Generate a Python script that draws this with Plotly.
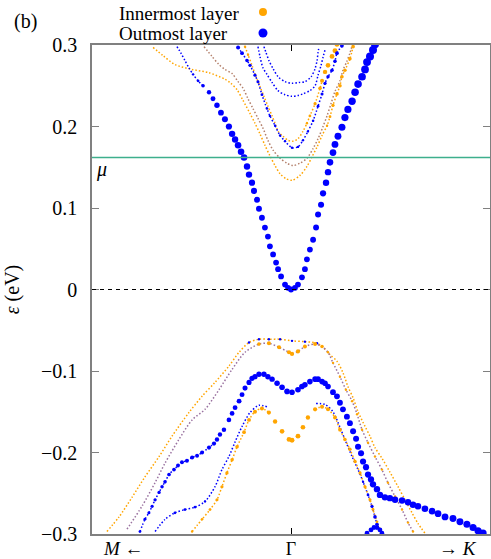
import numpy as np
import plotly.graph_objects as go

ORANGE = "#ffa500"
BLUE = "#0000ff"
MIX = "#9a72a0"
BROWN = "#b4806c"
FONT = "Liberation Serif"
MU = 0.162

# k runs from the M side (-1) through Gamma (0) to the K side (1); energies in eV
# w is the layer weight, used for the dot size

# conduction bands
c1_k = [-0.573, -0.553, -0.533, -0.513, -0.492, -0.467, -0.442, -0.412, -0.392, -0.372, -0.352, -0.332,
        -0.312, -0.296, -0.281, -0.266, -0.251, -0.236, -0.221, -0.211, -0.196, -0.186, -0.171, -0.161,
        -0.146, -0.131, -0.116, -0.106, -0.090, -0.075, -0.065, -0.050, -0.030, -0.015, 0.0,
        0.020, 0.035, 0.055, 0.070, 0.080, 0.095, 0.111, 0.126, 0.136, 0.151, 0.161, 0.176,
        0.186, 0.196, 0.211, 0.221, 0.236, 0.256, 0.271, 0.286, 0.307, 0.322, 0.337, 0.357,
        0.372, 0.382, 0.397, 0.412, 0.422]
c1_e = [0.298, 0.290, 0.281, 0.272, 0.264, 0.256, 0.250, 0.242, 0.234, 0.226, 0.217, 0.209,
        0.200, 0.191, 0.184, 0.177, 0.169, 0.162, 0.151, 0.141, 0.131, 0.121, 0.110, 0.099,
        0.088, 0.076, 0.065, 0.053, 0.043, 0.033, 0.025, 0.016, 0.006, 0.002, 0.0,
        0.002, 0.006, 0.015, 0.025, 0.037, 0.049, 0.061, 0.076, 0.092, 0.104, 0.118, 0.131,
        0.144, 0.156, 0.168, 0.178, 0.188, 0.199, 0.211, 0.221, 0.231, 0.242, 0.252, 0.261,
        0.270, 0.279, 0.286, 0.294, 0.301]
c1_w = [0.2, 0.2, 0.22, 0.25, 0.3, 0.35, 0.45, 0.55, 0.62, 0.68, 0.72, 0.75,
        0.78, 0.8, 0.8, 0.82, 0.82, 0.82, 0.8, 0.8, 0.78, 0.76, 0.75, 0.74,
        0.73, 0.72, 0.72, 0.72, 0.72, 0.72, 0.72, 0.72, 0.72, 0.72, 0.72,
        0.72, 0.72, 0.72, 0.72, 0.72, 0.72, 0.73, 0.74, 0.75, 0.76, 0.78, 0.8,
        0.8, 0.82, 0.84, 0.85, 0.86, 0.88, 0.9, 0.9, 0.92, 0.94, 0.95, 0.96,
        0.97, 0.98, 1.0, 1.0, 1.0]

c2_k = [-0.693, -0.643, -0.583, -0.497, -0.412, -0.332, -0.302, -0.271, -0.241, -0.206, -0.181, -0.156,
        -0.131, -0.106, -0.080, -0.055, -0.025, 0.005, 0.045, 0.080, 0.106, 0.131, 0.156, 0.181,
        0.196, 0.211, 0.231, 0.246, 0.256, 0.271, 0.296, 0.312]
c2_e = [0.297, 0.287, 0.276, 0.270, 0.266, 0.258, 0.253, 0.245, 0.232, 0.216, 0.204, 0.191,
        0.177, 0.164, 0.152, 0.142, 0.136, 0.134, 0.140, 0.151, 0.163, 0.175, 0.189, 0.201,
        0.212, 0.226, 0.240, 0.250, 0.261, 0.269, 0.283, 0.298]
c2_w = [0, 0, 0, 0, 0, 0, 0, 0, 0, 0, 0, 0,
        0, 0, 0, 0, 0, 0, 0, 0, 0, 0, 0.25, 0.3,
        0.35, 0.4, 0.45, 0.45, 0.45, 0.45, 0.45, 0.45]

c3_k = [-0.437, -0.397, -0.362, -0.332, -0.296, -0.266, -0.241, -0.216, -0.191, -0.166, -0.141, -0.116,
        -0.090, -0.055, -0.020, 0.010, 0.045, 0.080, 0.111, 0.136, 0.161, 0.181, 0.201, 0.221,
        0.246, 0.261, 0.281, 0.296, 0.307]
c3_e = [0.298, 0.286, 0.276, 0.270, 0.265, 0.255, 0.247, 0.234, 0.222, 0.210, 0.198, 0.183,
        0.171, 0.161, 0.155, 0.152, 0.155, 0.161, 0.173, 0.185, 0.200, 0.213, 0.228, 0.243,
        0.256, 0.269, 0.280, 0.290, 0.299]
c3_w = [0, 0, 0, 0, 0, 0, 0, 0, 0, 0, 0, 0,
        0, 0, 0, 0, 0, 0, 0, 0, 0, 0, 0, 0,
        0, 0, 0, 0, 0]

c4_k = [-0.266, -0.246, -0.221, -0.206, -0.181, -0.166, -0.146, -0.121, -0.106, -0.080, -0.055, -0.030,
        0.005, 0.035, 0.060, 0.085, 0.111, 0.136, 0.156, 0.171, 0.186, 0.206, 0.221, 0.231, 0.256]
c4_e = [0.297, 0.290, 0.281, 0.275, 0.263, 0.255, 0.239, 0.222, 0.213, 0.201, 0.189, 0.182,
        0.174, 0.175, 0.183, 0.194, 0.207, 0.225, 0.240, 0.253, 0.261, 0.269, 0.280, 0.290, 0.299]
c4_w = [0.5, 0.48, 0.45, 0.42, 0.4, 0.38, 0.35, 0.32, 0.3, 0.3, 0.3, 0.3,
        0.3, 0.3, 0.3, 0.3, 0.32, 0.35, 0.38, 0.4, 0.42, 0.44, 0.45, 0.46, 0.46]

c5_k = [-0.231, -0.216, -0.196, -0.176, -0.156, -0.136, -0.116, -0.095, -0.080, -0.065, -0.040, -0.015,
        0.010, 0.035, 0.060, 0.080, 0.095, 0.121, 0.146, 0.156, 0.171, 0.186, 0.206, 0.221, 0.231]
c5_e = [0.298, 0.288, 0.275, 0.261, 0.249, 0.237, 0.225, 0.213, 0.204, 0.194, 0.188, 0.183,
        0.182, 0.185, 0.194, 0.204, 0.213, 0.228, 0.247, 0.256, 0.267, 0.275, 0.286, 0.293, 0.301]
c5_w = [0.3, 0.3, 0.28, 0.26, 0.25, 0.25, 0.25, 0.25, 0.25, 0.25, 0.25, 0.25,
        0.25, 0.25, 0.28, 0.3, 0.35, 0.4, 0.45, 0.5, 0.55, 0.58, 0.6, 0.62, 0.62]

c6_k = [-0.166, -0.156, -0.141, -0.121, -0.095, -0.065, -0.030, 0.005, 0.035, 0.060, 0.095, 0.121,
        0.136, 0.151, 0.161, 0.171]
c6_e = [0.298, 0.286, 0.272, 0.264, 0.254, 0.244, 0.239, 0.237, 0.238, 0.240, 0.244, 0.250,
        0.263, 0.275, 0.285, 0.294]
c6_w = [0, 0, 0, 0, 0, 0, 0, 0, 0, 0, 0, 0, 0, 0, 0, 0]

c7_k = [-0.136, -0.126, -0.111, -0.090, -0.065, -0.030, 0.005, 0.040, 0.070, 0.101, 0.121, 0.131,
        0.136, 0.141]
c7_e = [0.298, 0.291, 0.281, 0.271, 0.261, 0.255, 0.253, 0.254, 0.255, 0.261, 0.271, 0.281,
        0.291, 0.298]
c7_w = [0, 0, 0, 0, 0, 0, 0, 0, 0, 0, 0, 0, 0, 0]

# valence bands
v1_k = [-0.925, -0.864, -0.799, -0.734, -0.663, -0.598, -0.513, -0.447, -0.382, -0.312, -0.261,
        -0.211, -0.161, -0.111, -0.055, 0.005, 0.070, 0.131,
        0.161, 0.196, 0.231, 0.261, 0.286, 0.312, 0.337, 0.372, 0.397, 0.422, 0.457, 0.497,
        0.538, 0.573, 0.608, 0.638, 0.673]
v1_e = [-0.297, -0.279, -0.255, -0.230, -0.205, -0.180, -0.151, -0.131, -0.114, -0.094, -0.077,
        -0.065, -0.061, -0.061, -0.061, -0.063, -0.064, -0.066,
        -0.071, -0.080, -0.088, -0.102, -0.119, -0.133, -0.150, -0.168, -0.180, -0.194, -0.207, -0.224,
        -0.242, -0.258, -0.274, -0.287, -0.299]
v1_w = [0, 0, 0, 0, 0, 0, 0, 0, 0, 0, 0,
        0.3, 0.3, 0.3, 0.3, 0.3, 0.3, 0.3,
        0, 0, 0, 0, 0, 0, 0, 0, 0, 0, 0, 0,
        0, 0, 0, 0, 0]

v2_k = [-0.824, -0.749, -0.683, -0.633, -0.563, -0.497, -0.432, -0.362, -0.296, -0.231,
        -0.161, -0.111, -0.060, -0.010, 0.005, 0.035, 0.070, 0.121, 0.156,
        0.186, 0.211, 0.246, 0.276, 0.307, 0.332, 0.357, 0.387, 0.422, 0.457, 0.487, 0.523,
        0.558, 0.588, 0.613]
v2_e = [-0.294, -0.266, -0.237, -0.213, -0.184, -0.160, -0.147, -0.123, -0.098, -0.077,
        -0.067, -0.066, -0.071, -0.077, -0.079, -0.076, -0.070, -0.067, -0.070,
        -0.077, -0.090, -0.107, -0.123, -0.137, -0.153, -0.172, -0.188, -0.205, -0.221, -0.237, -0.254,
        -0.270, -0.286, -0.297]
v2_w = [0, 0, 0, 0, 0, 0, 0, 0, 0, 0,
        0.45, 0.5, 0.5, 0.52, 0.52, 0.52, 0.5, 0.5, 0.45,
        0.3, 0.3, 0.3, 0.3, 0.3, 0.3, 0.3, 0.3, 0.3, 0.3, 0.3, 0.3,
        0.3, 0.3, 0.3]

v3_k = [-0.759, -0.734, -0.714, -0.698, -0.683, -0.663, -0.648, -0.633, -0.613, -0.588,
        -0.568, -0.548, -0.523, -0.497, -0.472, -0.447, -0.412, -0.387, -0.372, -0.357,
        -0.337, -0.312, -0.296, -0.281, -0.261, -0.246, -0.231, -0.211, -0.196, -0.181,
        -0.161, -0.136, -0.116, -0.095, -0.070, -0.045, -0.020, 0.005,
        0.035, 0.055, 0.070, 0.095, 0.121, 0.136, 0.156, 0.171, 0.186, 0.211,
        0.231, 0.246, 0.261, 0.281, 0.296, 0.312, 0.327, 0.337, 0.352, 0.362,
        0.377, 0.387, 0.402, 0.412, 0.432, 0.447, 0.472, 0.497, 0.523, 0.558,
        0.588, 0.613, 0.638, 0.673, 0.709, 0.739, 0.774, 0.814, 0.849, 0.884,
        0.915, 0.940, 0.965]
v3_e = [-0.297, -0.282, -0.274, -0.266, -0.258, -0.249, -0.242, -0.236, -0.227, -0.221,
        -0.216, -0.212, -0.210, -0.206, -0.204, -0.200, -0.194, -0.189, -0.184, -0.178,
        -0.172, -0.160, -0.152, -0.145, -0.137, -0.129, -0.121, -0.114, -0.109, -0.107,
        -0.104, -0.104, -0.107, -0.110, -0.115, -0.120, -0.125, -0.126,
        -0.123, -0.119, -0.117, -0.113, -0.110, -0.110, -0.113, -0.115, -0.119, -0.126,
        -0.131, -0.139, -0.147, -0.156, -0.164, -0.174, -0.183, -0.193, -0.201, -0.211,
        -0.218, -0.227, -0.233, -0.239, -0.245, -0.252, -0.255, -0.256, -0.258, -0.259,
        -0.261, -0.264, -0.266, -0.269, -0.272, -0.275, -0.279, -0.281, -0.285, -0.288,
        -0.292, -0.296, -0.299]
v3_w = [0.35, 0.37, 0.38, 0.4, 0.41, 0.42, 0.43, 0.45, 0.46, 0.47,
        0.48, 0.49, 0.5, 0.5, 0.5, 0.5, 0.52, 0.53, 0.55, 0.55,
        0.56, 0.58, 0.59, 0.6, 0.61, 0.62, 0.63, 0.64, 0.65, 0.66,
        0.67, 0.68, 0.68, 0.68, 0.69, 0.7, 0.7, 0.7,
        0.7, 0.7, 0.7, 0.7, 0.7, 0.7, 0.7, 0.7, 0.7, 0.72,
        0.72, 0.73, 0.73, 0.74, 0.74, 0.75, 0.75, 0.76, 0.76, 0.77,
        0.77, 0.78, 0.78, 0.79, 0.8, 0.8, 0.8, 0.8, 0.8, 0.81,
        0.81, 0.82, 0.82, 0.83, 0.83, 0.84, 0.85, 0.86, 0.87, 0.88,
        0.89, 0.9, 0.9]

v4_k = [-0.497, -0.447, -0.407, -0.372, -0.347, -0.322, -0.296, -0.271, -0.236, -0.211, -0.181, -0.146,
        -0.111, -0.080, -0.045, -0.010, 0.005, 0.035, 0.060, 0.085, 0.121, 0.156, 0.186, 0.221,
        0.246, 0.271, 0.296, 0.322, 0.347, 0.372, 0.397, 0.412, 0.432, 0.447]
v4_e = [-0.297, -0.282, -0.270, -0.258, -0.242, -0.225, -0.209, -0.193, -0.175, -0.160, -0.150, -0.146,
        -0.151, -0.162, -0.174, -0.184, -0.185, -0.180, -0.169, -0.157, -0.147, -0.144, -0.147, -0.157,
        -0.172, -0.184, -0.196, -0.211, -0.225, -0.242, -0.258, -0.270, -0.285, -0.294]
v4_w = [0.3, 0.32, 0.35, 0.38, 0.4, 0.42, 0.44, 0.45, 0.46, 0.48, 0.5, 0.5,
        0.52, 0.55, 0.58, 0.6, 0.62, 0.6, 0.58, 0.55, 0.52, 0.5, 0.5, 0.48,
        0.46, 0.45, 0.44, 0.42, 0.4, 0.4, 0.38, 0.36, 0.35, 0.35]

v5a_k = [-0.683, -0.633, -0.583, -0.533, -0.482, -0.432, -0.382, -0.347, -0.312, -0.281, -0.246, -0.206,
         -0.161, -0.121]
v5a_e = [-0.297, -0.282, -0.274, -0.270, -0.267, -0.260, -0.242, -0.221, -0.205, -0.187, -0.168, -0.151,
         -0.142, -0.144]
v5a_w = [0, 0, 0.35, 0.35, 0.35, 0.3, 0, 0, 0, 0, 0, 0, 0, 0]

v5b_k = [0.126, 0.171, 0.211, 0.246, 0.276, 0.307, 0.337, 0.362, 0.387, 0.407, 0.422, 0.432]
v5b_e = [-0.140, -0.141, -0.150, -0.169, -0.187, -0.205, -0.221, -0.236, -0.252, -0.266, -0.279, -0.288]
v5b_w = [0, 0, 0, 0, 0, 0, 0, 0.3, 0.35, 0.4, 0.45, 0.45]

v6_k = [0.382, 0.402, 0.417, 0.432, 0.447, 0.457]
v6_e = [-0.299, -0.295, -0.292, -0.292, -0.295, -0.299]
v6_w = [0.6, 0.6, 0.6, 0.6, 0.6, 0.6]

# (k, E, weight, dotted line colour, dot colour)
bands = [
    (c2_k, c2_e, c2_w, ORANGE, ORANGE),
    (c3_k, c3_e, c3_w, BROWN, ORANGE),
    (c5_k, c5_e, c5_w, ORANGE, ORANGE),
    (c6_k, c6_e, c6_w, BLUE, BLUE),
    (c7_k, c7_e, c7_w, BLUE, BLUE),
    (c4_k, c4_e, c4_w, BLUE, BLUE),
    (c1_k, c1_e, c1_w, BLUE, BLUE),
    (v1_k, v1_e, v1_w, ORANGE, BLUE),
    (v2_k, v2_e, v2_w, MIX, ORANGE),
    (v5a_k, v5a_e, v5a_w, BLUE, BLUE),
    (v5b_k, v5b_e, v5b_w, BLUE, BLUE),
    (v4_k, v4_e, v4_w, ORANGE, ORANGE),
    (v3_k, v3_e, v3_w, BLUE, BLUE),
    (v6_k, v6_e, v6_w, BLUE, BLUE),
]

fig = go.Figure()

# thin dotted trace where the weight is small (hidden under the big dots)
for k, e, w, lc, mc in bands:
    e_thin = np.where(np.array(w) >= 0.55, np.nan, np.array(e, dtype=float))
    fig.add_trace(go.Scatter(x=k, y=e_thin, mode="lines", connectgaps=False,
                             line=dict(color=lc, width=1.5, dash="1.5px,2px", shape="spline",
                                       smoothing=0.8),
                             hoverinfo="skip", showlegend=False))

for k, e, w, lc, mc in bands:
    k, e, w = np.array(k), np.array(e), np.array(w)
    m = w >= 0.3
    if m.any():
        fig.add_trace(go.Scatter(x=k[m], y=e[m], mode="markers",
                                 marker=dict(color=mc, size=8 * w[m], line_width=0, opacity=1),
                                 hoverinfo="skip", showlegend=False))

# Fermi level and chemical potential
fig.add_shape(type="line", xref="paper", x0=0, x1=1, y0=0, y1=0,
              line=dict(color="black", width=1, dash="4px,4px"))
fig.add_shape(type="line", xref="paper", x0=0, x1=1, y0=MU, y1=MU,
              line=dict(color="#3daf8d", width=1.5))

# legend drawn by hand, gnuplot style
fig.add_shape(type="circle", xref="paper", yref="paper", xsizemode="pixel", ysizemode="pixel",
              xanchor=0.4296, yanchor=1.0675, x0=-4, x1=4, y0=-4, y1=4,
              fillcolor=ORANGE, line_width=0)
fig.add_shape(type="circle", xref="paper", yref="paper", xsizemode="pixel", ysizemode="pixel",
              xanchor=0.4296, yanchor=1.0245, x0=-4.5, x1=4.5, y0=-4.5, y1=4.5,
              fillcolor=BLUE, line_width=0)

txt = dict(family=FONT, size=20, color="black")
small = dict(family=FONT, size=19, color="black")
key = dict(family=FONT, size=19, color="black")
fig.add_annotation(text="Innermost layer", xref="paper", yref="paper", x=0.0628, y=1.0654,
                   xanchor="left", yanchor="middle", showarrow=False, font=key)
fig.add_annotation(text="Outmost layer", xref="paper", yref="paper", x=0.0628, y=1.0245,
                   xanchor="left", yanchor="middle", showarrow=False, font=key)
fig.add_annotation(text="(b)", xref="paper", yref="paper", x=-0.168, y=1.049,
                   xanchor="center", yanchor="middle", showarrow=False, font=txt)
fig.add_annotation(text="<i>μ</i>", xref="paper", yref="y", x=0.005, y=0.147,
                   xanchor="left", yanchor="middle", showarrow=False, font=txt)
fig.add_annotation(text="<i>M</i> ←", xref="x", yref="paper", x=-0.84, y=0, yshift=-14,
                   xanchor="center", yanchor="middle", showarrow=False, font=small)
fig.add_annotation(text="→ <i>K</i>", xref="x", yref="paper", x=0.84, y=0, yshift=-14,
                   xanchor="center", yanchor="middle", showarrow=False, font=small)

fig.update_layout(
    width=491, height=559,
    margin=dict(l=92, r=1, t=45, b=25),
    plot_bgcolor="white", paper_bgcolor="white",
    font=txt,
)
fig.update_xaxes(range=[-1, 1], tickvals=[0], ticktext=["Γ"], ticks="inside", ticklen=6,
                 tickcolor="black", mirror="ticks", showline=True, linecolor="#808080", linewidth=1.6,
                 showgrid=False, zeroline=False, tickfont=dict(family=FONT, size=18, color="black"),
                 ticklabelstandoff=-2, automargin=False)
fig.update_yaxes(range=[-0.3, 0.3], tickvals=[-0.3, -0.2, -0.1, 0, 0.1, 0.2, 0.3],
                 ticktext=["−0.3", "−0.2", "−0.1", "0", "0.1", "0.2", "0.3"],
                 ticks="inside", ticklen=7, tickcolor="#808080", mirror="ticks", showline=True,
                 linecolor="#808080", linewidth=1.6, showgrid=False, zeroline=False, tickfont=txt,
                 ticklabelstandoff=9, automargin=False,
                 title=dict(text="<i>ε</i> (eV)", font=txt, standoff=16))

# drop the default 8 px page margin so the figure fills the window exactly
fig.write_html("out.html", config={"displayModeBar": False},
               post_script="document.body.style.margin = '0';")
